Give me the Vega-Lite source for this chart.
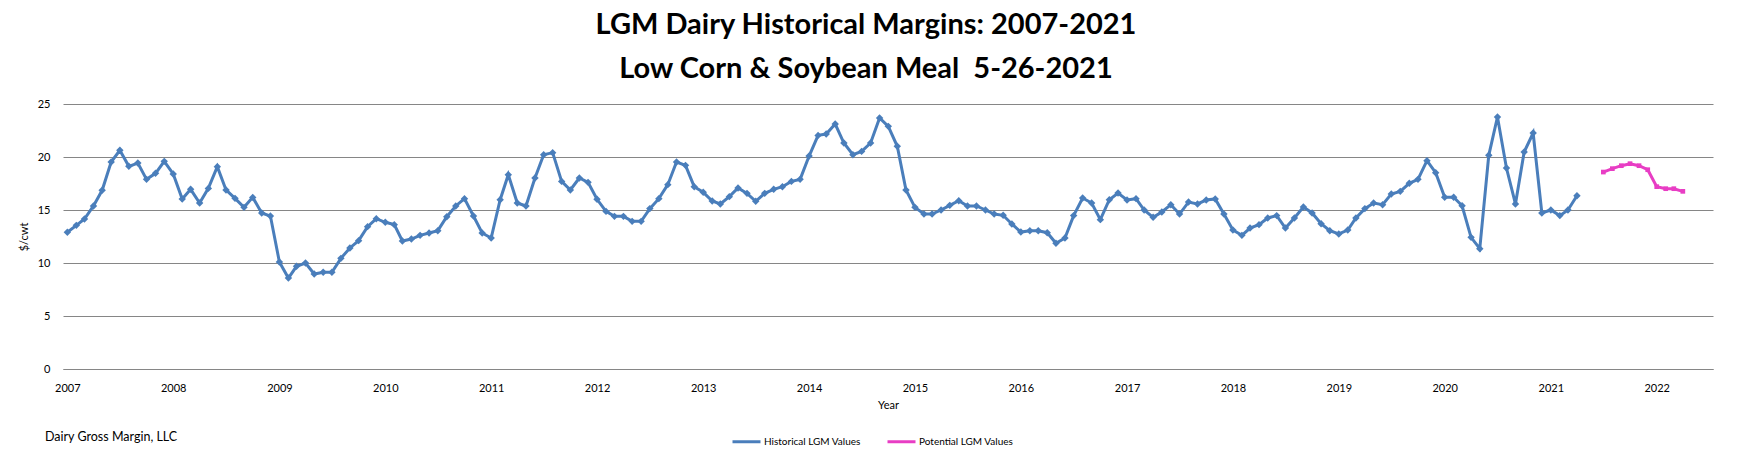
{
  "$schema": "https://vega.github.io/schema/vega-lite/v6.json",
  "autosize": {"type": "none"},
  "padding": {"left": 63, "top": 104, "right": 24, "bottom": 92},
  "width": 1650,
  "height": 265,
  "background": "white",
  "config": {"font": "Lato", "view": {"stroke": null}},
  "title": {
    "text": ["LGM Dairy Historical Margins: 2007-2021", "Low Corn & Soybean Meal\u00a0 5-26-2021"],
    "fontSize": 29,
    "fontWeight": "bold",
    "color": "#000000",
    "anchor": "middle",
    "frame": "group",
    "dx": -22,
    "offset": 14,
    "lineHeight": 44
  },
  "datasets": {
    "historical": [
      {"date": "2007-01-01", "value": 12.9}, {"date": "2007-02-01", "value": 13.55}, {"date": "2007-03-01", "value": 14.15},
      {"date": "2007-04-01", "value": 15.38}, {"date": "2007-05-01", "value": 16.86}, {"date": "2007-06-01", "value": 19.53},
      {"date": "2007-07-01", "value": 20.63}, {"date": "2007-08-01", "value": 19.12}, {"date": "2007-09-01", "value": 19.43},
      {"date": "2007-10-01", "value": 17.89}, {"date": "2007-11-01", "value": 18.46}, {"date": "2007-12-01", "value": 19.59},
      {"date": "2008-01-01", "value": 18.4}, {"date": "2008-02-01", "value": 16.04}, {"date": "2008-03-01", "value": 16.95},
      {"date": "2008-04-01", "value": 15.66}, {"date": "2008-05-01", "value": 17.04}, {"date": "2008-06-01", "value": 19.09},
      {"date": "2008-07-01", "value": 16.89}, {"date": "2008-08-01", "value": 16.1}, {"date": "2008-09-01", "value": 15.25},
      {"date": "2008-10-01", "value": 16.19}, {"date": "2008-11-01", "value": 14.72}, {"date": "2008-12-01", "value": 14.43},
      {"date": "2009-01-01", "value": 10.09}, {"date": "2009-02-01", "value": 8.58}, {"date": "2009-03-01", "value": 9.69},
      {"date": "2009-04-01", "value": 10.0}, {"date": "2009-05-01", "value": 8.96}, {"date": "2009-06-01", "value": 9.12},
      {"date": "2009-07-01", "value": 9.12}, {"date": "2009-08-01", "value": 10.44}, {"date": "2009-09-01", "value": 11.42},
      {"date": "2009-10-01", "value": 12.11}, {"date": "2009-11-01", "value": 13.43}, {"date": "2009-12-01", "value": 14.18},
      {"date": "2010-01-01", "value": 13.84}, {"date": "2010-02-01", "value": 13.62}, {"date": "2010-03-01", "value": 12.08},
      {"date": "2010-04-01", "value": 12.26}, {"date": "2010-05-01", "value": 12.61}, {"date": "2010-06-01", "value": 12.83},
      {"date": "2010-07-01", "value": 13.05}, {"date": "2010-08-01", "value": 14.37}, {"date": "2010-09-01", "value": 15.38},
      {"date": "2010-10-01", "value": 16.07}, {"date": "2010-11-01", "value": 14.43}, {"date": "2010-12-01", "value": 12.83},
      {"date": "2011-01-01", "value": 12.36}, {"date": "2011-02-01", "value": 15.97}, {"date": "2011-03-01", "value": 18.33},
      {"date": "2011-04-01", "value": 15.66}, {"date": "2011-05-01", "value": 15.38}, {"date": "2011-06-01", "value": 18.02},
      {"date": "2011-07-01", "value": 20.22}, {"date": "2011-08-01", "value": 20.41}, {"date": "2011-09-01", "value": 17.7},
      {"date": "2011-10-01", "value": 16.89}, {"date": "2011-11-01", "value": 18.02}, {"date": "2011-12-01", "value": 17.61},
      {"date": "2012-01-01", "value": 16.01}, {"date": "2012-02-01", "value": 14.87}, {"date": "2012-03-01", "value": 14.4},
      {"date": "2012-04-01", "value": 14.4}, {"date": "2012-05-01", "value": 13.93}, {"date": "2012-06-01", "value": 13.93},
      {"date": "2012-07-01", "value": 15.13}, {"date": "2012-08-01", "value": 16.07}, {"date": "2012-09-01", "value": 17.39},
      {"date": "2012-10-01", "value": 19.53}, {"date": "2012-11-01", "value": 19.21}, {"date": "2012-12-01", "value": 17.2},
      {"date": "2013-01-01", "value": 16.67}, {"date": "2013-02-01", "value": 15.85}, {"date": "2013-03-01", "value": 15.57},
      {"date": "2013-04-01", "value": 16.26}, {"date": "2013-05-01", "value": 17.08}, {"date": "2013-06-01", "value": 16.57},
      {"date": "2013-07-01", "value": 15.82}, {"date": "2013-08-01", "value": 16.57}, {"date": "2013-09-01", "value": 16.95},
      {"date": "2013-10-01", "value": 17.2}, {"date": "2013-11-01", "value": 17.7}, {"date": "2013-12-01", "value": 17.89},
      {"date": "2014-01-01", "value": 20.09}, {"date": "2014-02-01", "value": 22.04}, {"date": "2014-03-01", "value": 22.17},
      {"date": "2014-04-01", "value": 23.11}, {"date": "2014-05-01", "value": 21.32}, {"date": "2014-06-01", "value": 20.22},
      {"date": "2014-07-01", "value": 20.53}, {"date": "2014-08-01", "value": 21.32}, {"date": "2014-09-01", "value": 23.68},
      {"date": "2014-10-01", "value": 22.89}, {"date": "2014-11-01", "value": 21.01}, {"date": "2014-12-01", "value": 16.89},
      {"date": "2015-01-01", "value": 15.25}, {"date": "2015-02-01", "value": 14.62}, {"date": "2015-03-01", "value": 14.62},
      {"date": "2015-04-01", "value": 15.0}, {"date": "2015-05-01", "value": 15.44}, {"date": "2015-06-01", "value": 15.88},
      {"date": "2015-07-01", "value": 15.38}, {"date": "2015-08-01", "value": 15.38}, {"date": "2015-09-01", "value": 15.0},
      {"date": "2015-10-01", "value": 14.62}, {"date": "2015-11-01", "value": 14.5}, {"date": "2015-12-01", "value": 13.68},
      {"date": "2016-01-01", "value": 12.92}, {"date": "2016-02-01", "value": 13.05}, {"date": "2016-03-01", "value": 13.05},
      {"date": "2016-04-01", "value": 12.86}, {"date": "2016-05-01", "value": 11.86}, {"date": "2016-06-01", "value": 12.36},
      {"date": "2016-07-01", "value": 14.47}, {"date": "2016-08-01", "value": 16.13}, {"date": "2016-09-01", "value": 15.66},
      {"date": "2016-10-01", "value": 14.09}, {"date": "2016-11-01", "value": 15.97}, {"date": "2016-12-01", "value": 16.6},
      {"date": "2017-01-01", "value": 15.94}, {"date": "2017-02-01", "value": 16.07}, {"date": "2017-03-01", "value": 15.0},
      {"date": "2017-04-01", "value": 14.31}, {"date": "2017-05-01", "value": 14.81}, {"date": "2017-06-01", "value": 15.5},
      {"date": "2017-07-01", "value": 14.62}, {"date": "2017-08-01", "value": 15.75}, {"date": "2017-09-01", "value": 15.57},
      {"date": "2017-10-01", "value": 15.94}, {"date": "2017-11-01", "value": 16.04}, {"date": "2017-12-01", "value": 14.62},
      {"date": "2018-01-01", "value": 13.11}, {"date": "2018-02-01", "value": 12.61}, {"date": "2018-03-01", "value": 13.3},
      {"date": "2018-04-01", "value": 13.62}, {"date": "2018-05-01", "value": 14.25}, {"date": "2018-06-01", "value": 14.47},
      {"date": "2018-07-01", "value": 13.3}, {"date": "2018-08-01", "value": 14.25}, {"date": "2018-09-01", "value": 15.28},
      {"date": "2018-10-01", "value": 14.72}, {"date": "2018-11-01", "value": 13.71}, {"date": "2018-12-01", "value": 13.05},
      {"date": "2019-01-01", "value": 12.74}, {"date": "2019-02-01", "value": 13.11}, {"date": "2019-03-01", "value": 14.25},
      {"date": "2019-04-01", "value": 15.13}, {"date": "2019-05-01", "value": 15.66}, {"date": "2019-06-01", "value": 15.5},
      {"date": "2019-07-01", "value": 16.51}, {"date": "2019-08-01", "value": 16.76}, {"date": "2019-09-01", "value": 17.52},
      {"date": "2019-10-01", "value": 17.89}, {"date": "2019-11-01", "value": 19.65}, {"date": "2019-12-01", "value": 18.52},
      {"date": "2020-01-01", "value": 16.2}, {"date": "2020-02-01", "value": 16.2}, {"date": "2020-03-01", "value": 15.4},
      {"date": "2020-04-01", "value": 12.42}, {"date": "2020-05-01", "value": 11.35}, {"date": "2020-06-01", "value": 20.16},
      {"date": "2020-07-01", "value": 23.77}, {"date": "2020-08-01", "value": 18.96}, {"date": "2020-09-01", "value": 15.57},
      {"date": "2020-10-01", "value": 20.47}, {"date": "2020-11-01", "value": 22.26}, {"date": "2020-12-01", "value": 14.72},
      {"date": "2021-01-01", "value": 15.0}, {"date": "2021-02-01", "value": 14.47}, {"date": "2021-03-01", "value": 15.0},
      {"date": "2021-04-01", "value": 16.35}
    ],
    "potential": [
      {"date": "2021-07-01", "value": 18.58}, {"date": "2021-08-01", "value": 18.9}, {"date": "2021-09-01", "value": 19.18},
      {"date": "2021-10-01", "value": 19.37}, {"date": "2021-11-01", "value": 19.18}, {"date": "2021-12-01", "value": 18.8},
      {"date": "2022-01-01", "value": 17.2}, {"date": "2022-02-01", "value": 17.01}, {"date": "2022-03-01", "value": 17.01},
      {"date": "2022-04-01", "value": 16.76}
    ]
  },
  "encoding": {
    "x": {
      "field": "date",
      "type": "temporal",
      "scale": {
        "type": "utc",
        "domain": [
          {"year": 2006, "month": 12, "date": 17, "utc": true},
          {"year": 2022, "month": 7, "date": 14, "utc": true}
        ]
      },
      "axis": {
        "values": [
          {"year": 2007, "utc": true}, {"year": 2008, "utc": true}, {"year": 2009, "utc": true}, {"year": 2010, "utc": true},
          {"year": 2011, "utc": true}, {"year": 2012, "utc": true}, {"year": 2013, "utc": true}, {"year": 2014, "utc": true},
          {"year": 2015, "utc": true}, {"year": 2016, "utc": true}, {"year": 2017, "utc": true}, {"year": 2018, "utc": true},
          {"year": 2019, "utc": true}, {"year": 2020, "utc": true}, {"year": 2021, "utc": true}, {"year": 2022, "utc": true}
        ],
        "format": "%Y",
        "title": "Year",
        "grid": false,
        "ticks": false,
        "domainColor": "#868686",
        "labelOverlap": false,
        "labelFlush": false,
        "labelFontSize": 11,
        "labelColor": "#000000",
        "labelPadding": 13,
        "titleFontSize": 11,
        "titleFontWeight": "normal",
        "titleColor": "#000000",
        "titlePadding": 6
      }
    },
    "y": {
      "field": "value",
      "type": "quantitative",
      "scale": {"domain": [0, 25], "nice": false},
      "axis": {
        "values": [0, 5, 10, 15, 20, 25],
        "title": "$/cwt",
        "domain": false,
        "ticks": false,
        "gridColor": "#868686",
        "gridOpacity": 1,
        "labelFontSize": 11,
        "labelColor": "#000000",
        "labelPadding": 13,
        "titleFontSize": 11,
        "titleFontWeight": "normal",
        "titleColor": "#000000",
        "titlePadding": 8
      }
    }
  },
  "layer": [
    {
      "data": {"name": "historical"},
      "mark": {
        "type": "line",
        "strokeWidth": 3,
        "point": {"shape": "diamond", "size": 55, "filled": true}
      },
      "encoding": {
        "color": {
          "datum": "Historical LGM Values",
          "scale": {
            "domain": ["Historical LGM Values", "Potential LGM Values"],
            "range": ["#4A7EBB", "#E83DC4"]
          },
          "legend": {
            "orient": "none",
            "legendX": -18,
            "legendY": 322,
            "direction": "horizontal",
            "title": "Dairy Gross Margin, LLC",
            "titleOrient": "left",
            "titleBaseline": "middle",
            "titlePadding": 553,
            "titleFontSize": 12.5,
            "titleFontWeight": "normal",
            "titleColor": "#000000",
            "labelFontSize": 10,
            "labelColor": "#000000",
            "labelOffset": 2,
            "symbolType": "stroke",
            "symbolSize": 784,
            "symbolStrokeWidth": 3,
            "columnPadding": 20
          }
        }
      }
    },
    {
      "data": {"name": "potential"},
      "mark": {
        "type": "line",
        "strokeWidth": 3,
        "point": {"shape": "square", "size": 22, "filled": true}
      },
      "encoding": {
        "color": {"datum": "Potential LGM Values"}
      }
    }
  ]
}
